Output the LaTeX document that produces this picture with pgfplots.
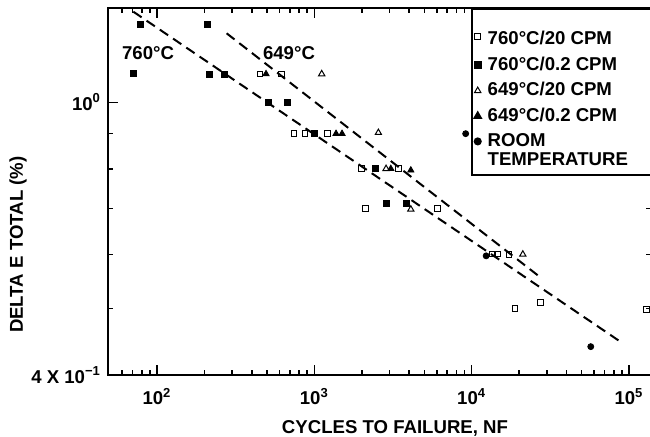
\documentclass[border=0pt]{standalone}
\usepackage{fontspec}
\setmainfont{Liberation Sans}
\usepackage{pgfplots}
\pgfplotsset{compat=1.18}

\newcommand{\chartfont}{\fontsize{9.3}{11}\selectfont\bfseries}

\begin{document}
\begin{tikzpicture}
\begin{axis}[
    at={(0,0)}, anchor=south west,
    scale only axis,
    width=271.5pt, height=183.5pt,
    xmode=log, ymode=log,
    xmin=48.8, xmax=1.38e5,
    ymin=0.4, ymax=1.373,
    font=\chartfont,
    tick label style={font=\chartfont},
    xticklabel style={yshift=-3pt},
    label style={font=\chartfont},
    axis line style={line width=1pt},
    tick style={line width=0.8pt, black},
    major tick length=5pt, minor tick length=2.5pt,
    xtick={100,1000,10000,100000},
    xticklabels={10\textsuperscript{2},10\textsuperscript{3},10\textsuperscript{4},10\textsuperscript{5}},
    minor xtick={60,70,80,90,200,300,400,500,600,700,800,900,
        2000,3000,4000,5000,6000,7000,8000,9000,
        20000,30000,40000,50000,60000,70000,80000,90000},
    ytick={0.4,1},
    yticklabels={4 X 10\textsuperscript{−1},10\textsuperscript{0}},
    minor ytick={0.5,0.6,0.7,0.8,0.9},
    xlabel={CYCLES TO FAILURE, NF},
    ylabel={DELTA E TOTAL (\%)},
    xlabel style={at={(axis description cs:0.5285,-0.1444)}, anchor=center},
    ylabel style={at={(axis description cs:-0.1657,0.355)}, anchor=center},
    only marks,
    every axis plot/.append style={black},
    legend image code/.code={
        \draw[mark repeat=2,mark phase=2,#1] plot coordinates {(0pt,0pt)(3pt,0pt)(6pt,0pt)};
        \path[draw=none] (0pt,0pt) -- (6pt,0pt);},
    legend cell align=left,
    legend style={at={(0.668,1)}, anchor=north west, draw=black, line width=1pt,
        font=\chartfont, row sep=0.5pt, inner xsep=0pt, inner ysep=1pt},
]

% 760C / 20 CPM
\addplot[mark=square, mark size=1.4pt, mark options={line width=0.5pt, fill=white},
    legend image code/.code={
        \path[draw=none] (0pt,-6pt) -- (6pt,6pt);
        \draw[mark repeat=2,mark phase=2,##1] plot coordinates {(0pt,-2.5pt)(3pt,-2.5pt)(6pt,-2.5pt)};}]
coordinates {
    (452,1.10)(621,1.10)(743,0.901)(873,0.901)(1210,0.90)
    (2000,0.801)(3422,0.80)(2123,0.700)(6050,0.700)
    (13610,0.601)(14560,0.601)(17300,0.60)
    (18880,0.5005)(27480,0.510)(129700,0.498)
};
\addlegendentry{\rule{0pt}{15pt}760°C/20 CPM}

% 760C / 0.2 CPM
\addplot[mark=square*, mark size=1.5pt] coordinates {
    (78,1.30)(210,1.30)(70.7,1.102)(214,1.10)(267,1.10)
    (511,1.0)(673,1.0)(1000,0.90)
    (2432,0.80)(2884,0.712)(3828,0.711)
};
\addlegendentry{760°C/0.2 CPM}

% 649C / 20 CPM
\addplot[mark=triangle, mark size=1.8pt, mark options={line width=0.5pt, fill=white}] coordinates {
    (1114,1.10)(2553,0.903)(2857,0.80)(4104,0.698)(21140,0.60)
};
\addlegendentry{649°C/20 CPM}

% 649C / 0.2 CPM
\addplot[mark=triangle*, mark size=1.8pt] coordinates {
    (493,1.10)(1374,0.90)(1500,0.90)(3062,0.80)(4104,0.796)
};
\addlegendentry{649°C/0.2 CPM}

% room temperature
\addplot[mark=*, mark size=1.5pt] coordinates {
    (9160,0.90)(12360,0.597)(57150,0.440)
};
\addlegendentry{ROOM}
\addlegendimage{empty legend}
\addlegendentry{\raisebox{0pt}[3.7pt][3pt]{TEMPERATURE}\rule{10pt}{0pt}}

% fitted lines
\addplot[sharp plot, no marks, forget plot, line width=1pt, dash pattern=on 5pt off 3pt]
    coordinates {(70.7,1.356)(89900,0.446)};
\addplot[sharp plot, no marks, forget plot, line width=1pt, dash pattern=on 5pt off 3pt]
    coordinates {(277,1.261)(26900,0.557)};

\node[font=\chartfont] at (axis cs:87.7,1.18) {760°C};
\node[font=\chartfont] at (axis cs:690,1.18) {649°C};
\end{axis}
\pgfresetboundingbox
\useasboundingbox (-54pt,-31pt) rectangle (271pt,187.5pt);
\end{tikzpicture}
\end{document}
